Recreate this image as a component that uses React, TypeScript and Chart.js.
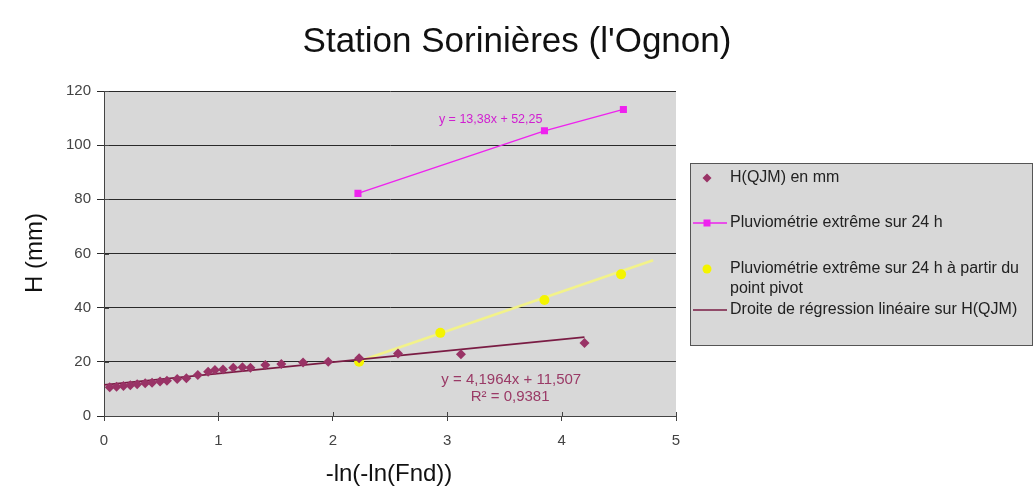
import React, { useEffect, useRef } from "react";
import { Chart, registerables } from "chart.js";
Chart.register(...registerables);

const FONT = "'Liberation Sans', Arial, sans-serif";

const chartTitle = "Station Sorinières (l'Ognon)";
const xTitle = "-ln(-ln(Fnd))";
const yTitle = "H (mm)";

const hqjmX = [0.05, 0.11, 0.17, 0.23, 0.29, 0.36, 0.42, 0.49, 0.55, 0.64, 0.72, 0.82, 0.91, 0.97, 1.04, 1.13, 1.21, 1.28, 1.41, 1.55, 1.74, 1.96, 2.23, 2.57, 3.12, 4.2];
const hqjmY = [10.6, 10.8, 11.1, 11.4, 11.7, 12.1, 12.3, 12.7, 13.0, 13.7, 13.9, 15.1, 16.3, 17.0, 17.2, 17.8, 18.0, 17.8, 18.8, 19.2, 19.8, 20.0, 21.3, 23.1, 22.8, 27.0];

const pluvioX = [2.22, 3.85, 4.54];
const pluvioY = [82.2, 105.3, 113.2];

const pivotX = [2.23, 2.94, 3.85, 4.52];
const pivotY = [20.0, 30.7, 42.8, 52.3];

const pivotTrendX = [2.23, 4.8];
const pivotTrendY = [20.2, 57.5];

const regX = [0, 4.2];
const regY = [11.5, 29.1];

const legendLabels = [
  ["H(QJM) en mm"],
  ["Pluviométrie extrême sur 24 h"],
  ["Pluviométrie extrême sur 24 h à partir du", "point pivot"],
  ["Droite de régression linéaire sur H(QJM)"],
];

const eqPluvio = "y = 13,38x + 52,25";
const eqReg = "y = 4,1964x + 11,507";
const r2Reg = "R² = 0,9381";

const C_H = "#993366";
const C_REG = "#7a1c44";
const C_PLUVIO = "#ee22ee";
const C_PIVOT = "#f4f400";
const C_PIVOT_LINE = "#f2f28a";
const PLOT_BG = "#d8d8d8";

const zip = (xs: number[], ys: number[]) => xs.map((x, i) => ({ x, y: ys[i] }));

const decor = {
  id: "decor",
  beforeDraw(chart: any) {
    const { ctx, chartArea } = chart;
    ctx.save();
    ctx.fillStyle = "#ffffff";
    ctx.fillRect(0, 0, chart.width, chart.height);
    ctx.fillStyle = PLOT_BG;
    ctx.fillRect(chartArea.left, chartArea.top, chartArea.right - chartArea.left, chartArea.bottom - chartArea.top);
    ctx.restore();
  },
  afterDraw(chart: any) {
    const { ctx, chartArea, scales } = chart;
    const xs = scales.x, ys = scales.y;
    ctx.save();
    // inner halves of the crossing tick marks
    ctx.strokeStyle = "#444";
    ctx.lineWidth = 1;
    ys.ticks.forEach((t: any) => {
      const py = Math.round(ys.getPixelForValue(t.value)) + 0.5;
      ctx.beginPath(); ctx.moveTo(chartArea.left, py); ctx.lineTo(chartArea.left + 5, py); ctx.stroke();
    });
    xs.ticks.forEach((t: any) => {
      const px = Math.round(xs.getPixelForValue(t.value)) + 0.5;
      ctx.beginPath(); ctx.moveTo(px, chartArea.bottom); ctx.lineTo(px, chartArea.bottom - 4); ctx.stroke();
    });

    ctx.fillStyle = "#111";
    ctx.textAlign = "center";
    ctx.textBaseline = "middle";
    ctx.font = `35px ${FONT}`;
    ctx.fillText(chartTitle, 517, 42);
    ctx.font = `24px ${FONT}`;
    ctx.fillText(xTitle, (chartArea.left + chartArea.right) / 2 - 1, 474);
    ctx.save();
    ctx.translate(35, 253);
    ctx.rotate(-Math.PI / 2);
    ctx.fillText(yTitle, 0, 0);
    ctx.restore();

    // trendline equations
    ctx.font = `12.5px ${FONT}`;
    ctx.fillStyle = "#d020d0";
    ctx.fillText(eqPluvio, xs.getPixelForValue(3.38), ys.getPixelForValue(109.6));
    ctx.font = `15px ${FONT}`;
    ctx.fillStyle = "#9a3a66";
    ctx.fillText(eqReg, xs.getPixelForValue(3.56), ys.getPixelForValue(13.3));
    ctx.fillText(r2Reg, xs.getPixelForValue(3.55), ys.getPixelForValue(7.2));

    // legend
    const L = 690, T = 163, W = 342, H = 182;
    ctx.fillStyle = PLOT_BG;
    ctx.fillRect(L, T, W, H);
    ctx.strokeStyle = "#555";
    ctx.lineWidth = 1;
    ctx.strokeRect(L + 0.5, T + 0.5, W, H);
    const rows = [178, 223, 269, 310];
    const mx = 707;
    ctx.textAlign = "left";
    ctx.font = `16px ${FONT}`;
    legendLabels.forEach((lines, i) => {
      const y = rows[i];
      if (i === 0) {
        ctx.fillStyle = C_H;
        ctx.beginPath();
        ctx.moveTo(mx, y - 4.5); ctx.lineTo(mx + 4.5, y); ctx.lineTo(mx, y + 4.5); ctx.lineTo(mx - 4.5, y);
        ctx.closePath(); ctx.fill();
      } else if (i === 1) {
        ctx.strokeStyle = C_PLUVIO; ctx.lineWidth = 1.5;
        ctx.beginPath(); ctx.moveTo(693, y); ctx.lineTo(727, y); ctx.stroke();
        ctx.fillStyle = C_PLUVIO; ctx.fillRect(mx - 3.5, y - 3.5, 7, 7);
      } else if (i === 2) {
        ctx.fillStyle = C_PIVOT;
        ctx.beginPath(); ctx.arc(mx, y, 4.5, 0, Math.PI * 2); ctx.fill();
      } else {
        ctx.strokeStyle = C_REG; ctx.lineWidth = 1.5;
        ctx.beginPath(); ctx.moveTo(693, y); ctx.lineTo(727, y); ctx.stroke();
      }
      ctx.fillStyle = "#222";
      lines.forEach((t, j) => ctx.fillText(t, 730, y + j * 20));
    });
    ctx.restore();
  },
};

export default function App() {
  const ref = useRef<HTMLCanvasElement>(null);
  useEffect(() => {
    document.body.style.margin = "0";
    const chart = new Chart(ref.current as HTMLCanvasElement, {
      type: "scatter",
      data: {
        datasets: [
          {
            label: legendLabels[0][0],
            data: zip(hqjmX, hqjmY),
            showLine: false,
            pointStyle: "rectRot",
            pointRadius: 5,
            backgroundColor: C_H,
            borderColor: C_H,
            borderWidth: 0,
          },
          {
            label: legendLabels[3][0],
            data: zip(regX, regY),
            showLine: true,
            pointRadius: 0,
            borderColor: C_REG,
            borderWidth: 1.8,
          },
          {
            label: legendLabels[1][0],
            data: zip(pluvioX, pluvioY),
            showLine: true,
            pointStyle: "rect",
            pointRadius: 4,
            backgroundColor: C_PLUVIO,
            borderColor: C_PLUVIO,
            borderWidth: 1.4,
          },
          {
            label: legendLabels[2].join(" "),
            data: zip(pivotX, pivotY),
            showLine: false,
            pointStyle: "circle",
            pointRadius: 5,
            backgroundColor: C_PIVOT,
            borderColor: C_PIVOT,
            borderWidth: 0,
          },
          {
            label: "pivot trend",
            data: zip(pivotTrendX, pivotTrendY),
            showLine: true,
            pointRadius: 0,
            borderColor: C_PIVOT_LINE,
            borderWidth: 2.5,
          },
        ],
      },
      options: {
        animation: false,
        responsive: true,
        maintainAspectRatio: false,
        layout: { padding: { left: 0, top: 91, right: 359, bottom: 0 } },
        plugins: { legend: { display: false }, tooltip: { enabled: false }, title: { display: false } },
        scales: {
          x: {
            type: "linear",
            min: 0,
            max: 5,
            afterFit: (s: any) => { s.height = 83; },
            ticks: { stepSize: 1, color: "#444", font: { family: FONT, size: 15 }, padding: 11 },
            grid: { drawOnChartArea: false, drawTicks: true, tickLength: 5, color: "#444" },
            border: { color: "#444", width: 1 },
          },
          y: {
            type: "linear",
            min: 0,
            max: 120,
            afterFit: (s: any) => { s.width = 104; },
            ticks: { stepSize: 20, color: "#444", font: { family: FONT, size: 15 }, padding: 6 },
            grid: { color: "#2a2a2a", lineWidth: 1, tickLength: 7 },
            border: { color: "#444", width: 1 },
          },
        },
      },
      plugins: [decor],
    });
    return () => chart.destroy();
  }, []);
  return (
    <div style={{ width: 1035, height: 499, position: "relative" }}>
      <canvas ref={ref} />
    </div>
  );
}
